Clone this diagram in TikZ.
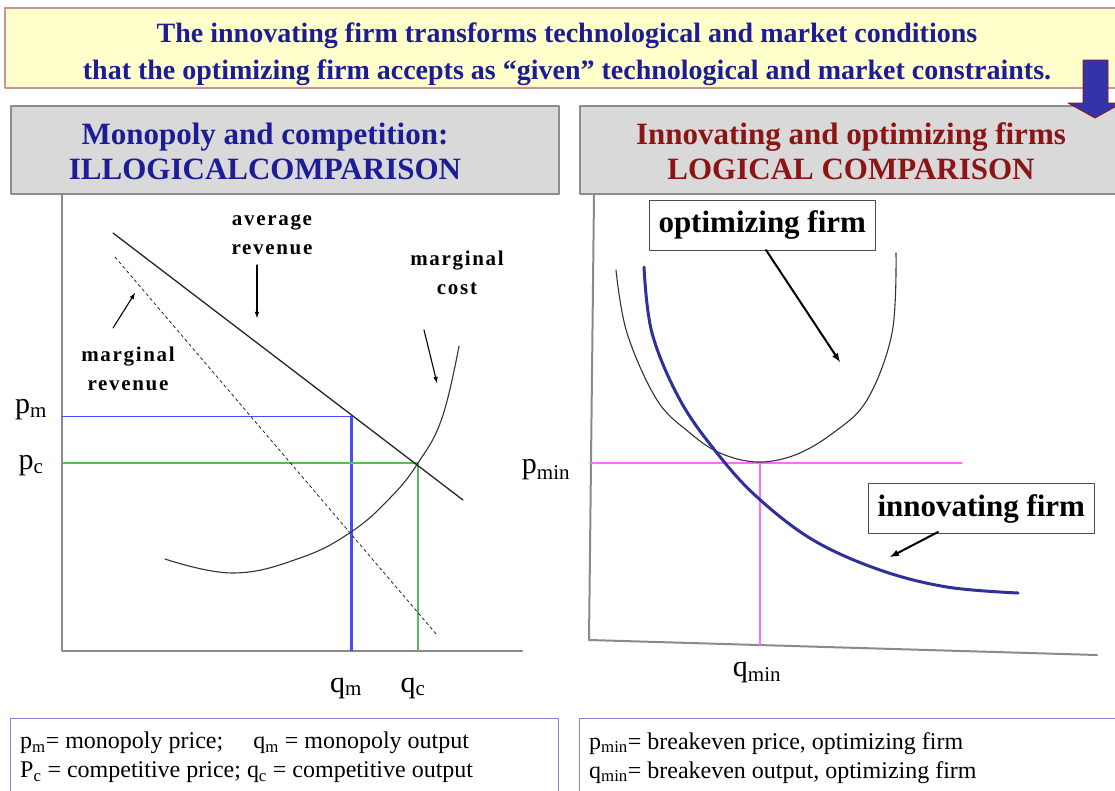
\documentclass[tikz,border=0pt]{standalone}
\usepackage{fontspec}
\setmainfont{Liberation Serif}
\newfontfamily\lblfont[LetterSpace=8]{Liberation Serif Bold}
\usepackage{tikz}
\usetikzlibrary{arrows}

\definecolor{bannerfill}{HTML}{FFFFCC}
\definecolor{bannerline}{HTML}{C89494}
\definecolor{titleblue}{HTML}{1C1C96}
\definecolor{titlered}{HTML}{8C1414}
\definecolor{headgray}{HTML}{D9D9D9}
\definecolor{headline}{HTML}{8C8C8C}
\definecolor{legendline}{HTML}{8484DC}
\definecolor{bigarrow}{HTML}{3434A8}
\definecolor{axisgray}{HTML}{8A8A8A}
\definecolor{innoblue}{HTML}{30309A}
\definecolor{pmblue}{HTML}{4A4AFF}
\definecolor{pcgreen}{HTML}{5DB85D}
\definecolor{pminpink}{HTML}{FF6CFF}

\begin{document}
\begin{tikzpicture}
    [line cap=round,line join=round,x=1pt,y=-1pt,
     headbox/.style={draw=headline,fill=headgray,line width=1.5pt,minimum width=548pt,minimum height=88pt,inner sep=0pt},
     headtext/.style={font=\fontsize{31}{35}\selectfont\bfseries,align=center},
     curvelbl/.style={font=\fontsize{21}{29}\lblfont,align=center,inner sep=1pt},
     axislbl/.style={font=\fontsize{30}{34}\selectfont,inner sep=1pt},
     legend/.style={draw=legendline,line width=1.2pt,minimum width=548pt,minimum height=82pt,inner sep=0pt},
     legendtext/.style={font=\fontsize{24}{29}\selectfont,align=left,anchor=north west,inner sep=0pt},
     firmbox/.style={draw=black!70,line width=1pt,font=\fontsize{31}{34}\selectfont\bfseries,inner xsep=9pt,minimum height=50pt}]
\useasboundingbox (0,0) rectangle (1115,790);
%banner and titles
\node[draw=bannerline,fill=bannerfill,line width=1.5pt,minimum width=1120pt,minimum height=80pt] (banner) at (565,48) {};
\node[text=titleblue,font=\fontsize{28}{37}\selectfont\bfseries,align=center] (bannerText) at (567,54)
      {The innovating firm transforms technological and market conditions\\
       that the optimizing firm accepts as ``given'' technological and market constraints.};

\node[headbox,anchor=north west] (monoHead) at (10,105) {};
\node[headtext,text=titleblue] (monoText) at (265,151) {Monopoly and competition:\\ILLOGICALCOMPARISON};
\node[headbox,anchor=north west] (innoHead) at (579,105) {};
\node[headtext,text=titlered] (innoText) at (851,151) {Innovating and optimizing firms\\LOGICAL COMPARISON};
\filldraw[draw=titlered,fill=bigarrow,line width=0.8pt] (1083,60) -- (1108,60) -- (1108,103) -- (1122,103)
      -- (1095,118) -- (1068,103) -- (1083,103) -- cycle;

%left graph: monopoly and competition
\draw[axisgray,line width=2pt] (62,195) -- (62,651) -- (522,651);
\draw[pmblue,line width=1pt] (62,416) -- (351,416);
\draw[pmblue,line width=3pt,line cap=butt] (351,416) -- (351,651);
\draw[pcgreen,line width=1.2pt] (62,463) -- (418,463) -- (418,651);
%average revenue, marginal revenue, marginal cost
\draw[black!85,line width=1.3pt] (113,233) -- (463,500);
\draw[black!85,dashed,line width=0.8pt] (115,257) -- (437,635);
\draw[black!80,line width=1.1pt] plot[smooth,tension=0.7] coordinates
      {(165,559) (233,573) (300,558) (351,532) (390,498) (418,463) (442,418) (459,346)};

\node[curvelbl] (arLabel) at (272,235) {average\\revenue};
\coordinate (arTip) at (257,318);
\draw[-latex,line width=1.1pt] (257,265) -- (arTip);
\node[curvelbl] (mcLabel) at (457,273) {marginal\\cost};
\coordinate (mcTip) at (437,383);
\draw[-latex,line width=1.1pt] (424,330) -- (mcTip);
\node[curvelbl] (mrLabel) at (128,369) {marginal\\revenue};
\coordinate (mrTip) at (135,293);
\draw[-latex,line width=1.1pt] (113,328) -- (mrTip);

\node[axislbl] (pm) at (31,410) {p\textsubscript{m}};
\node[axislbl] (pc) at (31,466) {p\textsubscript{c}};
\node[axislbl] (qm) at (346,688) {q\textsubscript{m}};
\node[axislbl] (qc) at (413,688) {q\textsubscript{c}};

%right graph: innovating and optimizing firms
\draw[axisgray,line width=2pt] (594,195) -- (589,640) -- (1097,655);
\draw[pminpink,line width=1.3pt] (590,463) -- (962,463);
\draw[pminpink,line width=1.3pt] (760,463) -- (760,645);
\draw[black!80,line width=1.1pt] plot[smooth,tension=0.6] coordinates
      {(616,270) (627,333) (657,400) (690,433) (720,453) (757,462) (795,455) (833,433) (867,400) (892,333) (896,253)};
\draw[innoblue,line width=3pt] plot[smooth,tension=0.6] coordinates
      {(644,267) (652,333) (680,400) (717,453) (757,497) (813,540) (880,570) (947,587) (1018,593)};

\node[axislbl] (pmin) at (546,470) {p\textsubscript{min}};
\node[axislbl] (qmin) at (757,672) {q\textsubscript{min}};

\node[firmbox,fill=white,anchor=north west] (optBox) at (649,200) {optimizing firm};
\coordinate (optTip) at (840,362);
\draw[-latex,line width=2pt] (766,250) -- (optTip);
\node[firmbox,fill=white,anchor=north west] (innoBox) at (868,483) {innovating firm};
\coordinate (innoTip) at (890,557);
\draw[-latex,line width=2pt] (938,532) -- (innoTip);

%legends
\node[legend,anchor=north west] (legendLeft) at (10,718) {};
\node[legendtext] (legendLeftText) at (20,732)
      {p\textsubscript{m}= monopoly price;\quad\ q\textsubscript{m} = monopoly output\\
       P\textsubscript{c} = competitive price; q\textsubscript{c} = competitive output};
\node[legend,anchor=north west] (legendRight) at (579,718) {};
\node[legendtext] (legendRightText) at (589,732)
      {p\textsubscript{min}= breakeven price, optimizing firm\\
       q\textsubscript{min}= breakeven output, optimizing firm};
\end{tikzpicture}
\end{document}
